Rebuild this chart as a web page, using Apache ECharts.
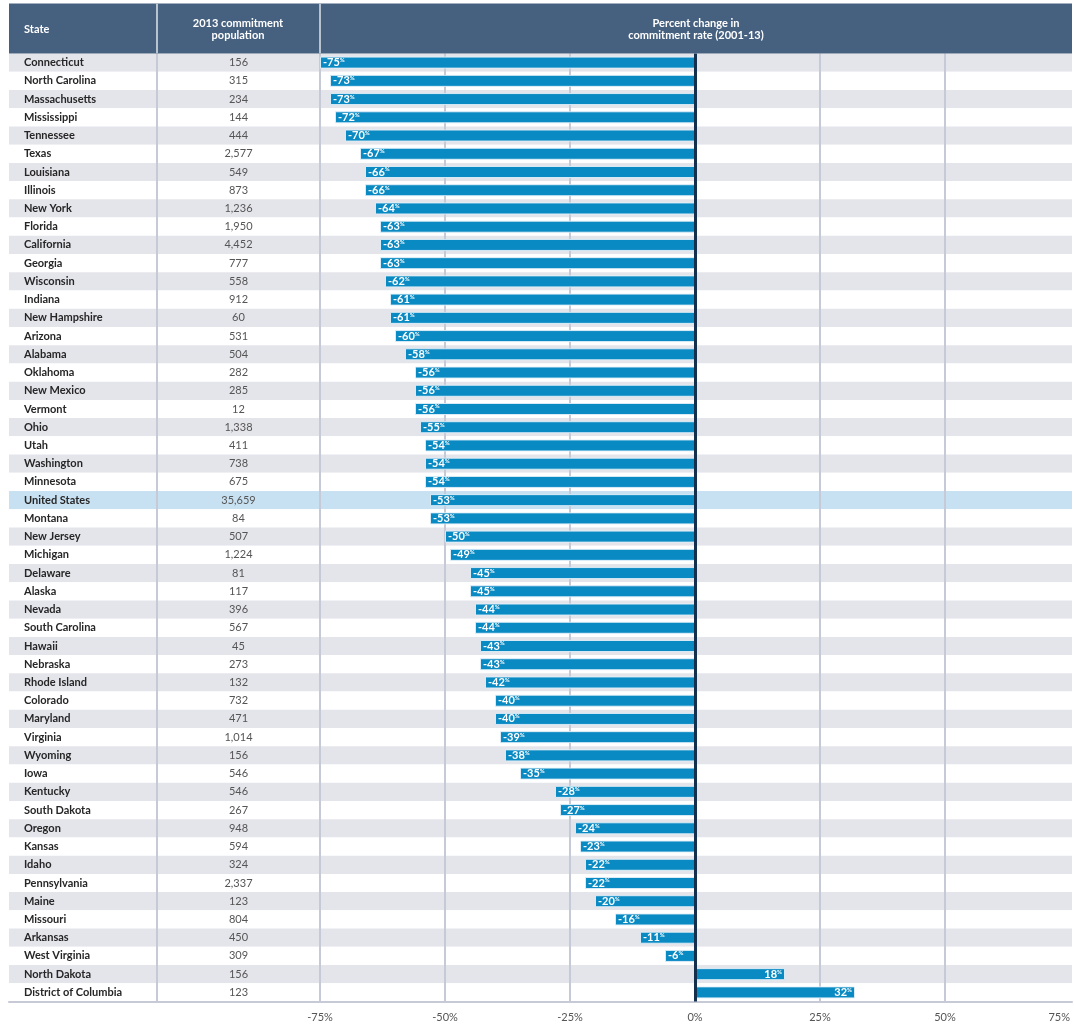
<!DOCTYPE html>
<html>
<head>
<meta charset="utf-8">
<script src="https://cdn.jsdelivr.net/npm/echarts@6/dist/echarts.min.js"></script>
<style>
html,body{margin:0;padding:0;background:#fff;}
#chart{width:1074px;height:1025px;}
</style>
</head>
<body>
<div id="chart"></div>
<script>
const states = ['Connecticut','North Carolina','Massachusetts','Mississippi','Tennessee','Texas','Louisiana','Illinois','New York','Florida','California','Georgia','Wisconsin','Indiana','New Hampshire','Arizona','Alabama','Oklahoma','New Mexico','Vermont','Ohio','Utah','Washington','Minnesota','United States','Montana','New Jersey','Michigan','Delaware','Alaska','Nevada','South Carolina','Hawaii','Nebraska','Rhode Island','Colorado','Maryland','Virginia','Wyoming','Iowa','Kentucky','South Dakota','Oregon','Kansas','Idaho','Pennsylvania','Maine','Missouri','Arkansas','West Virginia','North Dakota','District of Columbia'];
const population = [156,315,234,144,444,2577,549,873,1236,1950,4452,777,558,912,60,531,504,282,285,12,1338,411,738,675,35659,84,507,1224,81,117,396,567,45,273,132,732,471,1014,156,546,546,267,948,594,324,2337,123,804,450,309,156,123];
const change = [-75,-73,-73,-72,-70,-67,-66,-66,-64,-63,-63,-63,-62,-61,-61,-60,-58,-56,-56,-56,-55,-54,-54,-54,-53,-53,-50,-49,-45,-45,-44,-44,-43,-43,-42,-40,-40,-39,-38,-35,-28,-27,-24,-23,-22,-22,-20,-16,-11,-6,18,32];
const xTicks = [-75,-50,-25,0,25,50,75];
const highlightState = 'United States';
const headers = ['State','2013 commitment\npopulation','Percent change in\ncommitment rate (2001-13)'];

const FONT = 'Lato';
const TOP = 53.5, H = 948;
const stripeColor = (s, i) => s === highlightState ? '#c8e1f2' : (i % 2 === 0 ? '#e4e5eb' : '#ffffff');

const chart = echarts.init(document.getElementById('chart'), null, {renderer:'canvas'});
const option = {
  animation: false,
  backgroundColor: '#ffffff',
  textStyle: {fontFamily: FONT},
  grid: [
    {left: 9, width: 1063, top: TOP, height: H, containLabel: false},
    {left: 320, width: 750, top: TOP, height: H, containLabel: false},
    {left: 157, width: 163, top: TOP, height: H, containLabel: false}
  ],
  xAxis: [
    {gridIndex: 0, type: 'value', min: 0, max: 1, show: true, z: 1,
      axisLine: {show: true, lineStyle: {color: '#c6c9d6', width: 2}},
      axisTick: {show: false}, axisLabel: {show: false}, splitLine: {show: false}},
    {gridIndex: 1, type: 'value', min: xTicks[0], max: xTicks[xTicks.length-1], interval: 25, z: 1,
      axisLine: {show: false}, axisTick: {show: false},
      axisLabel: {formatter: '{value}%', color: '#555', fontSize: 11, fontFamily: FONT, margin: 10, alignMaxLabel: 'right'},
      splitLine: {show: true, showMaxLine: false, lineStyle: {color: '#c6c9d6', width: 2}}},
    {gridIndex: 2, type: 'value', min: 0, max: 1, show: false}
  ],
  yAxis: [
    {gridIndex: 0, type: 'category', data: states, inverse: true, show: false},
    {gridIndex: 1, type: 'category', data: states, inverse: true, z: 1,
      axisLine: {show: false}, axisTick: {show: false}, splitLine: {show: false},
      axisLabel: {
        margin: 0, interval: 0,
        formatter: (v, i) => '{n|' + v + '}{p|' + population[i].toLocaleString('en-US') + '}',
        rich: {
          n: {width: 133, align: 'left', padding: [0,0,0,14], fontSize: 11, fontWeight: 'bold', color: '#262626', fontFamily: FONT},
          p: {width: 163, align: 'center', fontSize: 11, color: '#555', fontFamily: FONT}
        }
      }},
    {gridIndex: 2, type: 'category', data: states, inverse: true, z: 1,
      axisLine: {show: true, lineStyle: {color: '#c6c9d6', width: 2}},
      axisTick: {show: false}, axisLabel: {show: false}, splitLine: {show: false}}
  ],
  series: [
    {type: 'bar', xAxisIndex: 0, yAxisIndex: 0, barWidth: '100%', silent: true, z: -1,
      data: states.map((s, i) => ({value: 1, itemStyle: {color: stripeColor(s, i)}}))},
    {type: 'bar', xAxisIndex: 1, yAxisIndex: 1, barWidth: 12, z: 3,
      itemStyle: {color: '#0a8ac3', borderColor: 'rgba(225,240,248,0.9)', borderWidth: 1},
      data: change.map(v => ({value: v, label: {position: v < 0 ? 'insideLeft' : 'insideRight'}})),
      label: {show: true, distance: 3,
        formatter: p => '{v|' + p.value + '}{s|%}',
        rich: {
          v: {fontSize: 11, color: '#fff', fontFamily: FONT, fontWeight: 'bold'},
          s: {fontSize: 6, color: '#fff', fontFamily: FONT, verticalAlign: 'top', fontWeight: 'bold'}
        }},
      markLine: {silent: true, symbol: 'none', label: {show: false}, z: 5,
        lineStyle: {color: '#14304d', width: 3, type: 'solid'},
        data: [{xAxis: 0}]}}
  ],
  graphic: [
    {type: 'rect', shape: {x: 9, y: 3.5, width: 1063, height: 50}, style: {fill: '#46607f'}, z: 10},
    {type: 'line', shape: {x1: 157, y1: 3.5, x2: 157, y2: 53.5}, style: {stroke: '#b9c2cf', lineWidth: 2}, z: 11},
    {type: 'line', shape: {x1: 320, y1: 3.5, x2: 320, y2: 53.5}, style: {stroke: '#b9c2cf', lineWidth: 2}, z: 11},
    {type: 'text', x: 24, y: 29, style: {text: headers[0], fill: '#fff', font: 'bold 11px ' + FONT, textVerticalAlign: 'middle'}, z: 12},
    {type: 'text', x: 238, y: 29.5, style: {text: headers[1], fill: '#fff', font: 'bold 11px ' + FONT, textAlign: 'center', textVerticalAlign: 'middle', lineHeight: 12}, z: 12},
    {type: 'text', x: 696, y: 29.5, style: {text: headers[2], fill: '#fff', font: 'bold 11px ' + FONT, textAlign: 'center', textVerticalAlign: 'middle', lineHeight: 12}, z: 12}
  ]
};
chart.setOption(option);
</script>
</body>
</html>
